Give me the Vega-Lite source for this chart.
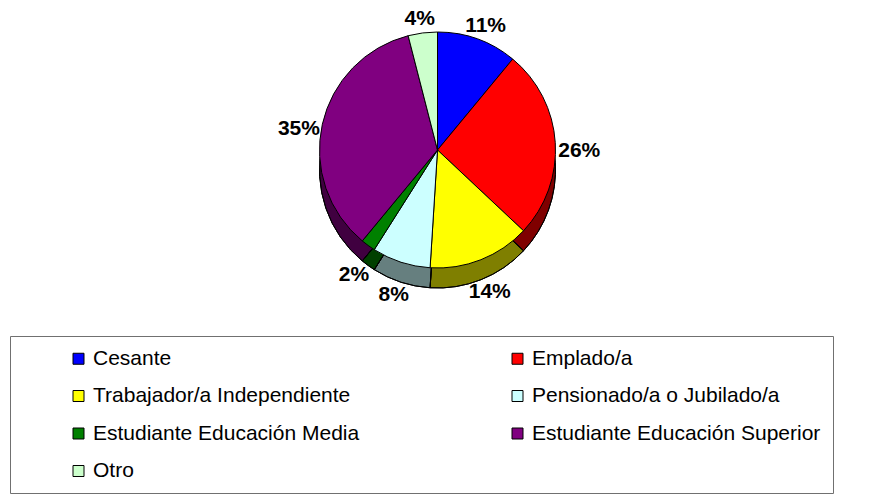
{
  "$schema": "https://vega.github.io/schema/vega-lite/v6.json",
  "width": 875,
  "height": 300,
  "padding": 0,
  "autosize": {"type": "pad"},
  "background": "white",
  "data": {
    "values": [
      {"categoria": "Cesante", "valor": 0.11, "orden": 1},
      {"categoria": "Emplado/a", "valor": 0.26, "orden": 2},
      {"categoria": "Trabajador/a Independiente", "valor": 0.14, "orden": 3},
      {"categoria": "Pensionado/a o Jubilado/a", "valor": 0.08, "orden": 4},
      {"categoria": "Estudiante Educación Media", "valor": 0.02, "orden": 5},
      {"categoria": "Estudiante Educación Superior", "valor": 0.35, "orden": 6},
      {"categoria": "Otro", "valor": 0.04, "orden": 7}
    ]
  },
  "encoding": {
    "theta": {"field": "valor", "type": "quantitative", "stack": true},
    "order": {"field": "orden", "type": "quantitative"}
  },
  "layer": [
    {
      "mark": {"type": "arc", "radius": 118, "yOffset": 20, "stroke": "black", "strokeWidth": 1},
      "encoding": {
        "color": {
          "field": "categoria",
          "type": "nominal",
          "scale": {
            "domain": ["Cesante", "Emplado/a", "Trabajador/a Independiente", "Pensionado/a o Jubilado/a", "Estudiante Educación Media", "Estudiante Educación Superior", "Otro"],
            "range": ["#0000FF", "#FF0000", "#FFFF00", "#CCFFFF", "#008000", "#800080", "#CCFFCC"]
          },
          "legend": {
            "orient": "none",
            "legendX": 10,
            "legendY": 336,
            "columns": 2,
            "direction": "horizontal",
            "title": " ",
            "titleOrient": "left",
            "titleFontSize": 10,
            "titlePadding": 46,
            "padding": 12,
            "strokeColor": "#707070",
            "symbolType": "square",
            "symbolSize": 121,
            "symbolStrokeColor": "black",
            "symbolStrokeWidth": 1,
            "symbolOpacity": 1,
            "labelFont": "Liberation Sans",
            "labelFontSize": 21,
            "labelColor": "black",
            "labelOffset": 4,
            "labelLimit": 400,
            "rowPadding": 15.5,
            "columnPadding": 147
          }
        }
      }
    },
    {
      "mark": {"type": "arc", "radius": 118, "yOffset": 20, "fill": "black", "fillOpacity": 0.5, "stroke": "black", "strokeWidth": 1}
    },
    {
      "mark": {"type": "arc", "radius": 118, "stroke": "black", "strokeWidth": 1},
      "encoding": {
        "color": {"field": "categoria", "type": "nominal"}
      }
    },
    {
      "mark": {"type": "text", "radius": 142, "yOffset": 10, "font": "Liberation Sans", "fontSize": 21, "fontWeight": "bold", "color": "black"},
      "encoding": {
        "text": {"field": "valor", "type": "quantitative", "format": ".0%"}
      }
    }
  ],
  "config": {
    "view": {"stroke": null}
  }
}
